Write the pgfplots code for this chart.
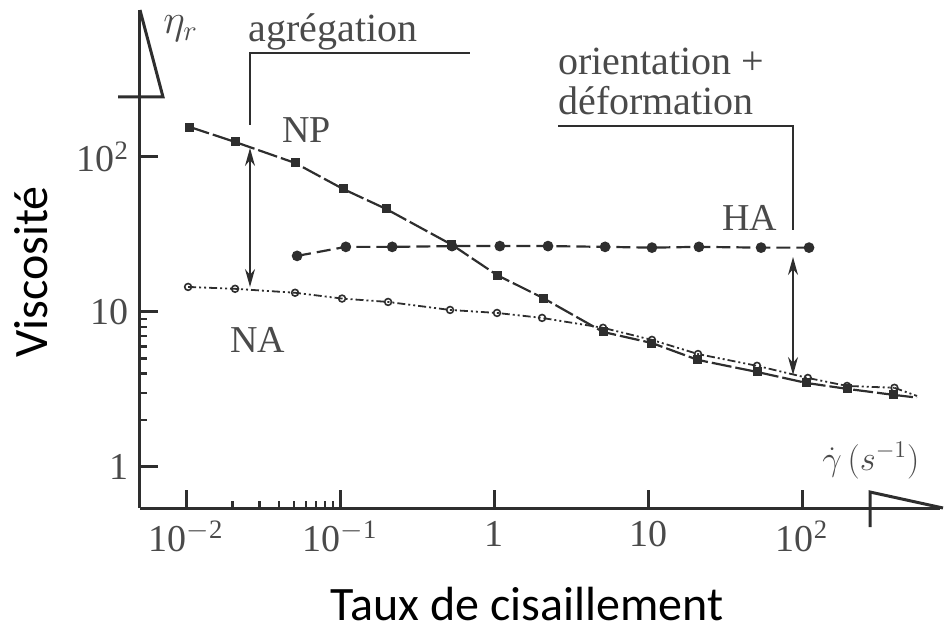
\documentclass[border=0pt]{standalone}
\usepackage{fontspec}
\setmainfont{Liberation Serif}
\newfontfamily\calibri{Carlito}
\usepackage{pgfplots}
\pgfplotsset{compat=1.18}
\usetikzlibrary{arrows.meta}
\definecolor{ink}{HTML}{2E2E2E}
\definecolor{txt}{HTML}{4A4A4A}

\begin{document}
\begin{tikzpicture}
\useasboundingbox (0,0) rectangle (472.5pt,316.5pt);
\begin{axis}[
  at={(70pt,62.5pt)}, anchor=south west,
  scale only axis, width=400pt, height=249pt,
  xmode=log, ymode=log,
  xmin=0.00502, xmax=787, ymin=0.543, ymax=888,
  axis x line=bottom, axis y line=left,
  axis line style={-, line width=1.5pt, ink},
  xtick={0.01,0.1,1,10,100},
  xticklabels={10\textsuperscript{$-$2},10\textsuperscript{$-$1},1,10,10\textsuperscript{2}},
  minor xtick={0.02,0.03,0.04,0.05,0.06,0.07,0.08,0.09},
  ytick={1,10,100},
  yticklabels={1,10,10\textsuperscript{2}},
  minor ytick={2,3,4,5,6,7,8,9},
  tick align=inside,
  major tick length=9pt, minor tick length=3.5pt,
  major tick style={ink, line width=1.5pt},
  minor tick style={ink, line width=1.2pt},
  ticklabel style={font=\fontsize{19}{19}\selectfont, text=txt},
  xticklabel style={yshift=-3pt},
  yticklabel style={xshift=-2pt},
  clip=false,
]
% NP
\addplot[ink, line width=1.1pt, dash pattern=on 10pt off 2pt, mark=square*, mark size=1.7pt, mark options={solid}]
 coordinates {(0.0106,156) (0.0208,125) (0.051,91.5) (0.1045,62.2) (0.199,46.2) (0.533,27.1) (1.045,17.3) (2.08,12.3) (5.1,7.43) (10.6,6.3) (21.1,4.9) (51,4.1) (107,3.48) (196,3.19) (390,2.92)};
\addplot[ink, line width=1.1pt, dash pattern=on 10pt off 2pt, mark=none]
 coordinates {(390,2.92) (558,2.8)};
% HA
\addplot[ink, line width=1.1pt, dash pattern=on 7pt off 3pt, mark=*, mark size=2.1pt, mark options={solid}]
 coordinates {(0.0526,23.0) (0.109,26.3) (0.218,26.3) (0.533,26.6) (1.09,26.6) (2.24,26.6) (5.26,26.3) (10.6,26.0) (21.4,26.3) (54.2,26.0) (111,26.0)};
% NA
\addplot[ink, line width=0.9pt, dash pattern=on 4pt off 1.5pt on 1pt off 1.5pt on 1pt off 1.5pt, mark=o, mark size=1.7pt, mark options={solid, fill=white, line width=0.8pt}]
 coordinates {(0.0103,14.5) (0.0208,14.1) (0.051,13.3) (0.103,12.2) (0.205,11.6) (0.518,10.3) (1.045,9.85) (2.05,9.15) (5.1,7.9) (10.6,6.6) (21.1,5.35) (51,4.49) (109,3.75) (196,3.33) (398,3.24)};
\addplot[ink, line width=0.9pt, dash pattern=on 4pt off 1.5pt on 1pt off 1.5pt on 1pt off 1.5pt, mark=none]
 coordinates {(398,3.24) (558,2.87)};
\end{axis}
\begin{scope}[x=0.5pt, y=-0.5pt, shift={(0,316.5pt)}, every node/.style={inner sep=0pt, text=txt}]
  % axis decorations
  \draw[ink, line width=1.5pt, line join=miter] (140,10) -- (163,97) -- (118,97);
  \draw[ink, line width=1.5pt, line join=miter] (870,527) -- (870,492) -- (943,508);
  % agregation bracket
  \draw[ink, line width=0.9pt] (250,125) -- (250,53) -- (470,53);
  \node[anchor=base west, font=\fontsize{20}{20}\selectfont] at (248,42) {agrégation};
  % orientation + deformation bracket
  \node[anchor=base west, font=\fontsize{20}{20}\selectfont] at (558,75) {orientation +};
  \node[anchor=base west, font=\fontsize{20}{20}\selectfont] at (558,115) {déformation};
  \draw[ink, line width=0.9pt] (558,126) -- (793,126) -- (793,230);
  % double arrows
  \draw[ink, line width=0.8pt, {Stealth[length=9pt,width=5pt]}-{Stealth[length=9pt,width=5pt]}] (250,148) -- (250,287);
  \draw[ink, line width=0.8pt, {Stealth[length=9pt,width=5pt]}-{Stealth[length=9pt,width=5pt]}] (793,257) -- (793,375);
  % curve labels
  \node[anchor=base west, font=\fontsize{19}{19}\selectfont] at (282,143) {NP};
  \node[anchor=base west, font=\fontsize{19}{19}\selectfont] at (722,230) {HA};
  \node[anchor=base west, font=\fontsize{19}{19}\selectfont] at (230,352) {NA};
  \node[anchor=base west, font=\fontsize{21}{21}\selectfont] at (163,34) {$\eta_r$};
  \node[anchor=base west, font=\fontsize{18}{18}\selectfont] at (822,470) {$\dot{\gamma}\,(s^{-1})$};
  % axis titles
  \node[anchor=base, font=\calibri\fontsize{24}{24}\selectfont, text=black] at (527,620) {Taux de cisaillement};
  \node[anchor=base, rotate=90, font=\calibri\fontsize{24}{24}\selectfont, text=black] at (47,272) {Viscosité};
\end{scope}
\end{tikzpicture}
\end{document}
